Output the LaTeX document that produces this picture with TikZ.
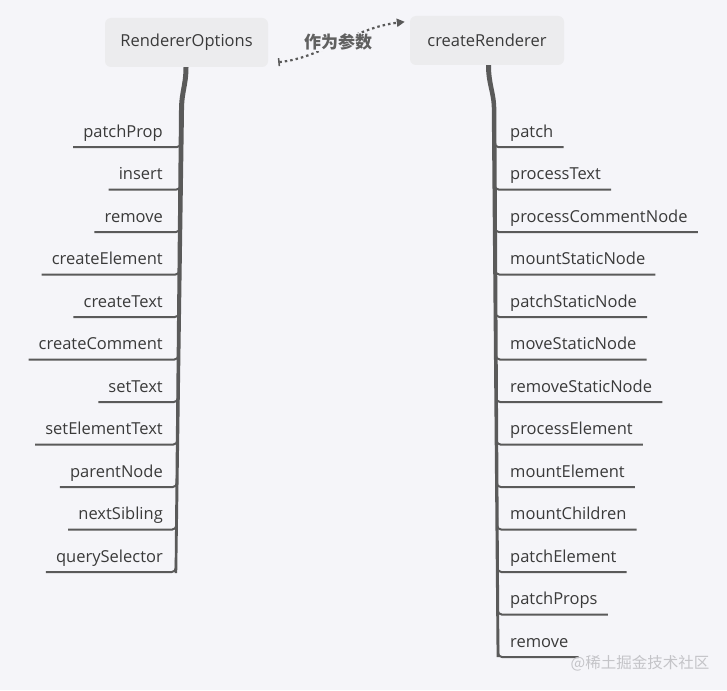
\documentclass[tikz,border=0pt]{standalone}
\usepackage{fontspec}
\setmainfont{Open Sans}
\newfontfamily\cjk{Noto Sans CJK SC}
\usetikzlibrary{arrows.meta,calc}
\definecolor{bg}{HTML}{F5F5F9}
\definecolor{boxfill}{HTML}{ECECEE}
\definecolor{txt}{HTML}{3A3A3A}
\definecolor{ln}{HTML}{5A5A5A}
\definecolor{lbl}{HTML}{606060}
\definecolor{wm}{HTML}{C4C4C8}
\tikzset{
  rootbox/.style={fill=boxfill, rounded corners=6pt, text=txt, font=\fontsize{16.5}{20}\selectfont, inner sep=0pt, minimum height=49pt},
  leaf/.style={text=txt, font=\fontsize{16.5}{20}\selectfont, inner xsep=10pt, inner ysep=0pt, minimum height=33pt, text height=14pt, text depth=0pt},
  under/.style={draw=ln, line width=2pt, rounded corners=4pt},
  param/.style={draw=ln, line width=2.2pt, dash pattern=on 2.5pt off 3pt, {Bar[width=8pt,line width=1.5pt]}-{Triangle[length=8pt,width=8pt]}},
}
\begin{document}
\begin{tikzpicture}[x=1pt,y=-1pt]
\fill[bg] (0,0) rectangle (727,690);
\useasboundingbox (0,0) rectangle (727,690);
\node[rootbox, minimum width=163pt] (ro) at (186.5,42.5) {RendererOptions};
\node[rootbox, minimum width=154pt] (cr) at (487,40.5) {createRenderer};
% trunks
\fill[ln] ($(ro.south)+(-3,0)$) .. controls +(0,18) and +(0,-18) .. (179,110) -- (174.6,573) -- (177.2,573) -- (184,110) .. controls +(0,-18) and +(0,18) .. ($(ro.south)+(2,0)$) -- cycle;
\fill[ln] ($(cr.south)+(-1,0)$) .. controls +(0,20) and +(0,-18) .. (491.8,110) -- (496.6,657) -- (499.4,657) -- (496.3,110) .. controls +(0,-18) and +(0,20) .. ($(cr.south)+(4,0)$) -- cycle;
% left leaves
\foreach \lbl [count=\i from 0] in {patchProp,insert,remove,createElement,createText,createComment,setText,setElementText,parentNode,nextSibling,querySelector} {
  \pgfmathsetmacro\uy{147+42.5*\i}
  \pgfmathsetmacro\tx{181.5-5.75*(\uy-110)/463}
  \node[leaf, anchor=south east] (L\i) at (173,\uy) {\lbl};
  \draw[under] (L\i.south west) -- (\tx,\uy) -- (\tx,\uy-12);
}
% right leaves
\foreach \lbl [count=\i from 0] in {patch,processText,processCommentNode,mountStaticNode,patchStaticNode,moveStaticNode,removeStaticNode,processElement,mountElement,mountChildren,patchElement,patchProps,remove} {
  \pgfmathsetmacro\uy{147+42.5*\i}
  \pgfmathsetmacro\tx{494+4*(\uy-110)/547}
  \node[leaf, anchor=south west] (R\i) at (500,\uy) {\lbl};
  \draw[under] (\tx,\uy-12) -- (\tx,\uy) -- (R\i.south east);
}
% parameter arrow
\draw[param] ([shift={(10pt,5pt)}]ro.south east) .. controls +(42,-4) and +(-50,6) .. ([shift={(-5pt,-6pt)}]cr.north west);
\node[font=\cjk\bfseries\fontsize{17}{20}\selectfont, text=lbl, fill=bg, inner sep=1pt] (pl) at (338,42) {作为参数};
% watermark
\node[font=\cjk\fontsize{15.5}{18}\selectfont, text=wm] (wmk) at (640,663) {@稀土掘金技术社区};
\end{tikzpicture}
\end{document}
